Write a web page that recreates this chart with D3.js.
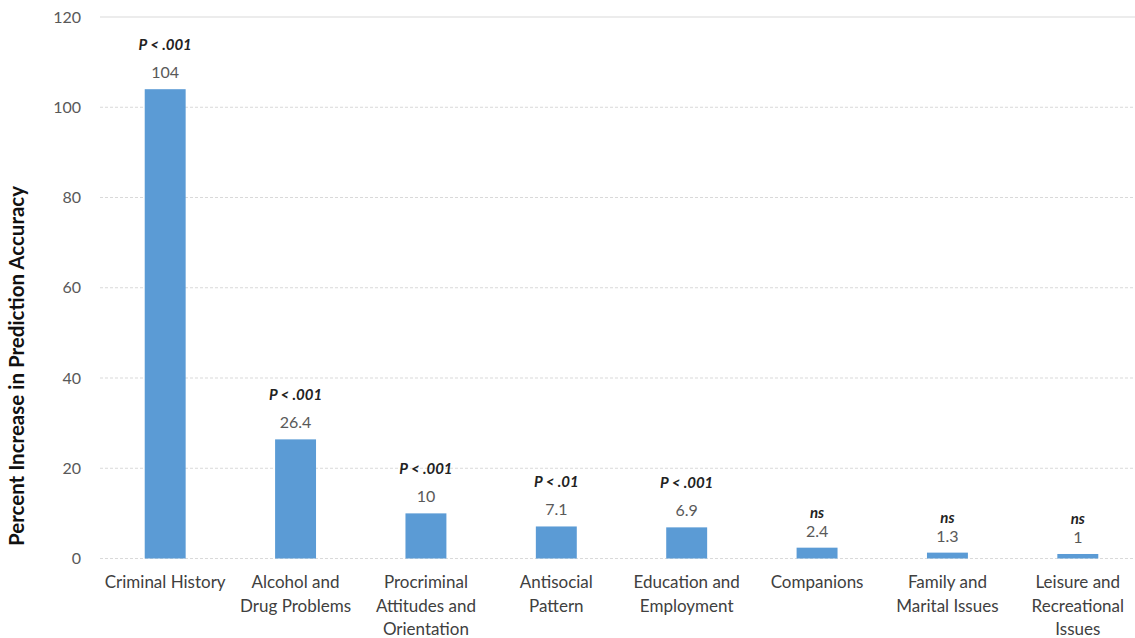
<!DOCTYPE html>
<html><head><meta charset="utf-8">
<script src="https://cdn.jsdelivr.net/npm/d3@7"></script>
<style>body{margin:0;background:#fff}svg{display:block}</style>
</head><body>
<svg id="c" width="1135" height="638"></svg>
<script>
const categories = [
  ["Criminal History"],
  ["Alcohol and", "Drug Problems"],
  ["Procriminal", "Attitudes and", "Orientation"],
  ["Antisocial", "Pattern"],
  ["Education and", "Employment"],
  ["Companions"],
  ["Family and", "Marital Issues"],
  ["Leisure and", "Recreational", "Issues"]
];
const values = [104, 26.4, 10, 7.1, 6.9, 2.4, 1.3, 1];
const valueLabels = ["104", "26.4", "10", "7.1", "6.9", "2.4", "1.3", "1"];
const pLabels = ["P < .001", "P < .001", "P < .001", "P < .01", "P < .001", "ns", "ns", "ns"];
const yTicks = [0, 20, 40, 60, 80, 100, 120];
const yTitle = "Percent Increase in Prediction Accuracy";

const font = "Lato, 'Open Sans', sans-serif";
const svg = d3.select("#c");
const x = d3.scaleBand().domain(d3.range(values.length)).range([100, 1143]).paddingInner(0.686).paddingOuter(0.343);
const y = d3.scaleLinear().domain([0, 120]).range([558.5, 17]);

// gridlines
svg.append("g").selectAll("line").data(yTicks).join("line")
  .attr("x1", 100).attr("x2", 1135)
  .attr("y1", d => y(d)).attr("y2", d => y(d))
  .attr("stroke", "#d9d9d9").attr("stroke-width", 1)
  .attr("stroke-dasharray", d => d === 120 ? null : "3,2");

// y axis ticks via d3 axis
const ya = d3.axisLeft(y).tickValues(yTicks).tickSize(0).tickPadding(0);
const yg = svg.append("g").attr("transform", "translate(81,0)").call(ya);
yg.select(".domain").remove();
yg.selectAll("text").attr("font-family", font).attr("font-size", 16).attr("fill", "#595959");

// y title
svg.append("text").attr("transform", "translate(24,366) rotate(-90)")
  .attr("text-anchor", "middle").attr("font-family", font).attr("font-size", 20.5)
  .attr("font-weight", "bold").attr("fill", "#111").text(yTitle);

// bars
svg.append("g").selectAll("rect").data(values).join("rect")
  .attr("x", (d, i) => x(i)).attr("width", x.bandwidth())
  .attr("y", d => y(d)).attr("height", d => y(0) - y(d))
  .attr("fill", "#5b9bd5");

// value labels
svg.append("g").selectAll("text").data(values).join("text")
  .attr("x", (d, i) => x(i) + x.bandwidth() / 2).attr("y", d => y(d) - 11)
  .attr("text-anchor", "middle").attr("font-family", font).attr("font-size", 16)
  .attr("fill", "#595959").text((d, i) => valueLabels[i]);

// p labels
svg.append("g").selectAll("text").data(values).join("text")
  .attr("x", (d, i) => x(i) + x.bandwidth() / 2)
  .attr("y", (d, i) => y(d) - 11 - (pLabels[i] === "ns" ? 19 : 28))
  .attr("text-anchor", "middle").attr("font-family", font).attr("font-size", 15)
  .attr("font-weight", "bold").attr("font-style", "italic").attr("fill", "#222")
  .text((d, i) => pLabels[i]);

// x category labels
const xg = svg.append("g");
categories.forEach((lines, i) => {
  const t = xg.append("text").attr("text-anchor", "middle").attr("font-family", font)
    .attr("font-size", 17).attr("fill", "#404040");
  lines.forEach((ln, j) => {
    t.append("tspan").attr("x", x(i) + x.bandwidth() / 2).attr("y", 588 + j * 23.5).text(ln);
  });
});
</script>
</body></html>
